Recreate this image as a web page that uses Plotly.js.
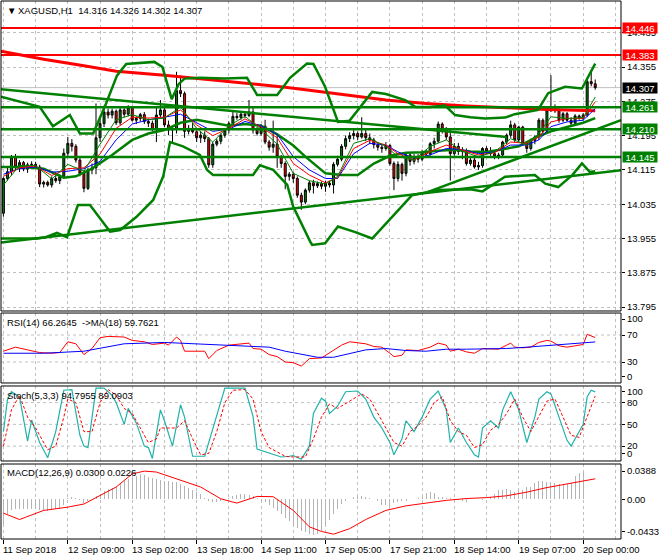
<!DOCTYPE html>
<html><head><meta charset="utf-8">
<script src="https://cdn.plot.ly/plotly-3.0.1.min.js"></script>
<style>html,body{margin:0;padding:0;background:#fff}#c{width:660px;height:560px}</style>
</head><body><div id="c"></div>
<script>
// ---------- DATA ----------
const openP = [14.014,14.095,14.111,14.145,14.122,14.132,14.117,14.127,14.128,14.122,14.082,14.086,14.080,14.095,14.090,14.100,14.154,14.177,14.170,14.138,
14.107,14.072,14.115,14.120,14.190,14.223,14.250,14.243,14.252,14.225,14.255,14.245,14.260,14.231,14.235,14.244,14.228,14.224,14.210,14.243,
14.255,14.220,14.208,14.210,14.300,14.293,14.205,14.212,14.204,14.190,14.196,14.188,14.127,14.175,14.182,14.196,14.208,14.223,14.240,14.237,
14.245,14.242,14.250,14.208,14.200,14.217,14.180,14.168,14.175,14.146,14.130,14.100,14.105,14.095,14.056,14.040,14.068,14.085,14.078,14.083,
14.077,14.084,14.080,14.128,14.140,14.170,14.188,14.195,14.200,14.192,14.200,14.190,14.185,14.174,14.168,14.165,14.172,14.130,14.095,14.128,
14.107,14.150,14.135,14.146,14.140,14.156,14.152,14.176,14.182,14.222,14.210,14.192,14.153,14.170,14.158,14.160,14.130,14.138,14.122,14.125,
14.165,14.158,14.153,14.146,14.150,14.180,14.196,14.220,14.185,14.215,14.177,14.165,14.184,14.192,14.231,14.205,14.255,14.262,14.253,14.231,
14.246,14.231,14.224,14.241,14.236,14.243,14.321,14.316];
const highP = [14.098,14.120,14.150,14.152,14.138,14.136,14.132,14.135,14.134,14.127,14.090,14.090,14.100,14.110,14.105,14.165,14.192,14.187,14.175,14.145,
14.115,14.120,14.130,14.270,14.240,14.265,14.258,14.258,14.256,14.260,14.260,14.266,14.264,14.240,14.248,14.250,14.235,14.230,14.262,14.278,
14.262,14.230,14.215,14.344,14.335,14.298,14.220,14.225,14.210,14.205,14.205,14.192,14.180,14.188,14.200,14.212,14.228,14.250,14.248,14.252,
14.250,14.278,14.262,14.215,14.222,14.232,14.185,14.230,14.200,14.150,14.135,14.110,14.110,14.100,14.062,14.072,14.090,14.092,14.088,14.088,
14.090,14.090,14.133,14.148,14.175,14.195,14.203,14.208,14.205,14.238,14.210,14.200,14.190,14.180,14.176,14.180,14.176,14.135,14.135,14.132,
14.156,14.155,14.152,14.152,14.162,14.162,14.180,14.190,14.228,14.226,14.215,14.210,14.178,14.178,14.168,14.165,14.145,14.150,14.134,14.168,
14.170,14.168,14.160,14.155,14.183,14.200,14.230,14.225,14.218,14.218,14.182,14.188,14.196,14.236,14.235,14.262,14.336,14.268,14.260,14.250,
14.250,14.238,14.245,14.244,14.248,14.325,14.348,14.326];
const lowP = [14.006,14.090,14.102,14.115,14.110,14.112,14.108,14.118,14.118,14.075,14.074,14.076,14.074,14.085,14.082,14.095,14.145,14.158,14.132,14.100,
14.063,14.068,14.105,14.105,14.180,14.215,14.235,14.235,14.220,14.220,14.238,14.240,14.228,14.222,14.228,14.222,14.215,14.205,14.180,14.238,
14.215,14.196,14.177,14.200,14.285,14.190,14.198,14.200,14.180,14.178,14.180,14.120,14.120,14.170,14.175,14.190,14.200,14.218,14.232,14.232,
14.236,14.238,14.200,14.195,14.195,14.175,14.160,14.155,14.120,14.120,14.070,14.090,14.085,14.050,14.022,14.035,14.062,14.060,14.073,14.070,
14.064,14.074,14.060,14.123,14.135,14.163,14.180,14.186,14.185,14.188,14.182,14.175,14.165,14.160,14.155,14.160,14.125,14.068,14.088,14.090,
14.100,14.125,14.128,14.132,14.135,14.145,14.148,14.165,14.178,14.200,14.185,14.090,14.148,14.150,14.140,14.125,14.125,14.118,14.115,14.120,
14.152,14.148,14.140,14.140,14.145,14.175,14.190,14.180,14.180,14.172,14.155,14.160,14.175,14.185,14.195,14.200,14.250,14.248,14.225,14.226,
14.228,14.218,14.220,14.232,14.230,14.238,14.310,14.302];
const closeP = [14.095,14.111,14.145,14.122,14.132,14.117,14.127,14.128,14.122,14.082,14.086,14.080,14.095,14.090,14.100,14.154,14.177,14.170,14.138,14.107,
14.072,14.115,14.120,14.190,14.223,14.250,14.243,14.252,14.225,14.255,14.245,14.260,14.231,14.235,14.244,14.228,14.224,14.210,14.243,14.255,
14.220,14.208,14.210,14.300,14.293,14.205,14.212,14.204,14.190,14.196,14.188,14.127,14.175,14.182,14.196,14.208,14.223,14.240,14.237,14.245,
14.242,14.250,14.208,14.200,14.217,14.180,14.168,14.175,14.146,14.130,14.100,14.105,14.095,14.056,14.040,14.068,14.085,14.078,14.083,14.077,
14.084,14.080,14.128,14.140,14.170,14.188,14.195,14.200,14.192,14.200,14.190,14.185,14.174,14.168,14.165,14.172,14.130,14.095,14.128,14.107,
14.150,14.135,14.146,14.140,14.156,14.152,14.176,14.182,14.222,14.210,14.192,14.153,14.170,14.158,14.160,14.130,14.138,14.122,14.125,14.165,
14.158,14.153,14.146,14.150,14.180,14.196,14.220,14.185,14.215,14.177,14.165,14.184,14.192,14.231,14.205,14.255,14.262,14.253,14.231,14.246,
14.231,14.224,14.241,14.236,14.243,14.321,14.316,14.307];

// moving averages (read every few bars)
const maX    = [0,4,8,12,16,20,24,28,32,36,40,44,48,52,56,60,64,68,72,76,80,83,87,91,95,98,102,106,110,114,118,122,126,130,133,136,140,144,147];
const maBlue = [14.105,14.118,14.122,14.110,14.112,14.118,14.135,14.185,14.222,14.232,14.238,14.245,14.225,14.205,14.210,14.228,14.218,14.198,14.146,14.115,14.095,14.095,14.153,14.177,14.173,14.157,14.142,14.150,14.165,14.162,14.153,14.157,14.173,14.173,14.185,14.216,14.227,14.231,14.258];
const maRed  = [14.100,14.120,14.124,14.102,14.118,14.120,14.152,14.212,14.238,14.236,14.238,14.255,14.220,14.195,14.212,14.234,14.215,14.190,14.130,14.103,14.085,14.097,14.165,14.184,14.173,14.153,14.138,14.158,14.173,14.162,14.150,14.155,14.180,14.177,14.192,14.227,14.235,14.235,14.274];
const maGreen= [14.080,14.125,14.125,14.094,14.128,14.112,14.175,14.232,14.244,14.232,14.236,14.262,14.212,14.180,14.218,14.240,14.210,14.175,14.107,14.090,14.082,14.100,14.177,14.188,14.170,14.146,14.138,14.170,14.185,14.158,14.146,14.157,14.188,14.173,14.200,14.239,14.235,14.237,14.285];

const ma200X = [-0.6,10,20,28,40,49,60,70,76,85,95,105,115,125,135,147];
const ma200Y = [14.392,14.373,14.358,14.345,14.336,14.328,14.318,14.308,14.301,14.290,14.278,14.270,14.264,14.260,14.256,14.253];

const bbUpX = [-0.6,4,9,12.3,16.5,19,22.3,25.5,28.2,30.5,37.5,39.5,41.8,43.5,45,48.8,55,60.5,63,68,71.2,75.4,77,79.9,83.1,86,91.6,95,99.8,102.3,106,109.7,112.2,116,119.7,124.6,127,132.8,135.3,139.5,143.7,147];
const bbUpY = [14.286,14.275,14.262,14.217,14.243,14.200,14.200,14.270,14.335,14.362,14.367,14.355,14.280,14.315,14.328,14.330,14.328,14.330,14.290,14.290,14.330,14.363,14.362,14.309,14.227,14.230,14.297,14.292,14.278,14.262,14.262,14.265,14.243,14.238,14.235,14.237,14.245,14.255,14.294,14.309,14.305,14.363];
const bbMidX = [-0.6,5,10,15,18,22,27,32,36,40,44,48,52,56,60,64,68,72,75,80,84,88,92,96,100,104,108,112,116,120,124,128,132,136,140,144,147];
const bbMidY = [14.122,14.122,14.118,14.097,14.100,14.118,14.150,14.185,14.200,14.208,14.225,14.232,14.225,14.218,14.222,14.218,14.198,14.172,14.146,14.107,14.103,14.103,14.130,14.148,14.155,14.156,14.160,14.162,14.158,14.157,14.163,14.170,14.190,14.205,14.215,14.225,14.236];
const bbLoX = [-0.6,8.3,10.5,13.3,15.8,17,18.5,21.5,26.5,29,33,37.2,39.7,41.4,44.6,48.8,50.6,52.1,62,63.7,67,70.5,72,76.2,76.7,79.9,83.1,87.4,91.6,97.3,101.5,108,116,119,122.1,124.6,132,134.6,137.8,141.3,143.7,145.7,147];
const bbLoY = [13.955,13.955,13.958,13.968,13.958,13.990,14.033,14.033,13.971,13.975,14.005,14.045,14.100,14.180,14.170,14.150,14.115,14.103,14.103,14.126,14.115,14.080,14.029,13.948,13.940,13.944,13.983,13.970,13.955,14.013,14.056,14.068,14.070,14.065,14.084,14.099,14.103,14.083,14.075,14.103,14.130,14.110,14.112];

// trend lines (bar index, price)
const trend1X = [-0.6,153.4], trend1Y = [13.946,14.114];
const trend2X = [-0.6,125], trend2Y = [14.303,14.192];
const trend3X = [105.5,153.4], trend3Y = [14.064,14.231];

// horizontal levels
const redLevels = [14.446,14.383];
const greenLevels = [14.261,14.210,14.145];
const lastPrice = 14.307;

// RSI
const rsiX = [0,3,6,9,12,14,16,18,20,22,24,26,30,32,35,37,40,41,43,44,45,48,50,51,53,56,59,61,62,64,66,68,70,72,74,76,79,82,84,86,88,90,92,94,96,97,99,100,103,106,108,110,111,113,115,117,119,121,123,125,126,127,129,131,133,135,136,138,140,142,144,145,146,147];
const rsiY = [46,52,48,44,43,44,60,57,41,50,66,68,67,62,60,56,58,55,67,62,46,46,46,35,47,55,57,58,50,49,41,38,30,29,24,35,36,48,55,60,58,57,53,52,43,38,40,48,47,52,58,55,46,49,45,43,50,49,49,55,58,52,51,52,59,62,61,54,52,54,56,71,69,66.26];
const rsiMaX = [0,10,20,25,30,40,50,60,66,70,74,78,82,86,90,95,100,105,110,115,120,125,130,135,140,145,147];
const rsiMaY = [43,43,46,52,57,59,56,53,52,46,42,37,37,42,48,50,47,46,49,49,49,50,52,54,56,58,59.76];

// Stochastic
const stX = [0,1,2,3,4,6,7,9,11,13,15,17,19,20,21,23,25,27,28,30,31,33,35,36,37,39,40,42,44,45,47,50,52,54,55,60,62,63,65,69,71,72,74,76,77,79,80,81,83,85,88,90,92,94,96,97,99,100,102,104,106,108,110,111,113,115,117,118,119,121,123,124,126,128,130,132,133,135,136,138,140,141,143,144,145,146,147];
const stMain = [40,84,95,92,88,27,56,25,4,40,97,98,35,20,18,100,100,90,80,50,72,52,20,18,3,70,55,20,77,60,6,6,43,82,100,100,61,16,12,5,6,7,2,20,65,86,82,65,75,95,96,85,60,45,25,8,30,55,40,60,85,96,70,25,45,25,8,5,45,55,45,70,95,70,25,60,85,95,92,60,28,20,40,50,88,97,94.8];
const stSigX = [0,2,4,6,8,10,11,13,15,16,18,20,22,24,26,28,30,32,34,36,38,39,41,43,45,47,49,51,53,55,57,60,62,64,66,70,72,75,77,79,81,83,86,89,91,93,95,97,99,101,103,105,107,109,111,113,115,117,119,121,123,125,127,129,131,133,135,137,139,141,143,145,147];
const stSig = [20,70,90,60,45,25,15,20,60,85,80,40,40,80,98,90,72,65,45,25,30,45,45,45,55,30,8,10,40,80,97,98,85,40,18,6,5,5,30,60,78,72,82,92,85,65,45,25,20,40,48,60,80,88,55,40,35,18,22,42,50,65,85,60,40,60,82,85,60,35,32,60,89.09];

// MACD
const macdHist = [-0.027,-0.016,-0.012,-0.010,-0.010,-0.011,-0.010,-0.010,-0.010,-0.012,-0.013,-0.013,-0.012,-0.011,-0.010,-0.006,
0.002,0.003,0.002,-0.001,-0.004,-0.002,0.000,0.004,
0.006,0.009,0.011,0.013,0.014,0.017,0.020,0.022,0.024,0.026,0.028,0.027,0.025,0.023,0.022,0.021,0.020,0.020,0.019,0.019,0.017,0.015,0.013,0.010,0.008,0.006,0.002,
-0.002,-0.003,-0.003,-0.002,0.000,0.002,0.004,0.005,0.006,0.006,0.005,0.004,
0.002,-0.001,-0.003,-0.006,-0.009,-0.013,-0.016,-0.020,-0.024,-0.028,-0.031,-0.034,-0.036,-0.038,-0.039,-0.038,-0.034,-0.028,
-0.022,-0.016,-0.010,-0.005,-0.002,0.001,0.003,0.004,0.004,0.003,0.002,0.001,
-0.002,-0.006,-0.006,-0.007,-0.004,-0.003,-0.002,-0.002,0.000,0.000,0.002,0.003,
0.007,0.008,0.007,0.003,0.003,0.002,0.002,0.000,-0.001,-0.002,-0.003,0.000,
0.000,0.000,-0.001,0.000,0.003,0.006,0.010,0.010,0.011,0.010,0.008,0.009,
0.010,0.014,0.014,0.018,0.020,0.020,0.019,0.019,0.018,0.017,0.017,0.017,
0.018,0.026,0.029,0.030];
const macdSigX = [0,4,10,16,20,24,28,32,35,38,44,49,54,58,63,67,72,76,79,82,86,90,95,100,105,110,115,120,125,130,135,140,144,147];
const macdSigY = [-0.015,-0.022,-0.012,-0.0084,-0.005,0.0044,0.0136,0.028,0.031,0.030,0.021,0.0136,0.0007,-0.004,0.0033,0.003,-0.012,-0.030,-0.035,-0.038,-0.032,-0.022,-0.012,-0.007,-0.004,-0.001,0.001,0.002,0.004,0.008,0.013,0.017,0.020,0.0226];

// axis labels
const timeLabels = ["11 Sep 2018","12 Sep 09:00","13 Sep 02:00","13 Sep 18:00","14 Sep 11:00","17 Sep 05:00","17 Sep 21:00","18 Sep 14:00","19 Sep 07:00","20 Sep 00:00"];
const timeLabelBars = [0,16,32,48,64,80,96,112,128,144];

// ---------- BUILD ----------
const idx = closeP.map((_, i) => i);
const FONT = "Liberation Sans, Arial, sans-serif";
const GREEN = "#008000", RED = "#ff0000";
const pxY = p => (539 - p) / 538;
const pxX = p => (p - 1) / 620;

const traces = [];
traces.push({type:"candlestick", x:idx, open:openP, high:highP, low:lowP, close:closeP, xaxis:"x", yaxis:"y",
  increasing:{fillcolor:GREEN, line:{color:"#000", width:1}},
  decreasing:{fillcolor:RED, line:{color:"#000", width:1}},
  whiskerwidth:0, hoverinfo:"skip", showlegend:false});
function line(x, y, color, width, yaxis, dash) {
  traces.push({type:"scatter", mode:"lines", x:x, y:y, xaxis:"x", yaxis:yaxis||"y",
    line:{color:color, width:width, dash:dash||"solid"}, hoverinfo:"skip", showlegend:false});
}
line(ma200X, ma200Y, RED, 3);
line(bbUpX, bbUpY, GREEN, 2.5);
line(bbMidX, bbMidY, GREEN, 2.5);
line(bbLoX, bbLoY, GREEN, 2.5);
line(trend1X, trend1Y, GREEN, 2.5);
line(trend2X, trend2Y, GREEN, 2.5);
line(trend3X, trend3Y, GREEN, 2.5);
line(maX, maBlue, "#0000ff", 1);
line(maX, maRed, RED, 1);
line(maX, maGreen, GREEN, 1);

line(rsiX, rsiY, RED, 1, "y2");
line(rsiMaX, rsiMaY, "#0000ff", 1, "y2");
line(stX, stMain, "#20b2aa", 1.2, "y3");
line(stSigX, stSig, RED, 1, "y3", "3px,2px");
traces.push({type:"bar", x:idx, y:macdHist, xaxis:"x", yaxis:"y4", width:0.25,
  marker:{color:"#b4b4b4", line:{width:0}}, hoverinfo:"skip", showlegend:false});
line(macdSigX, macdSigY, RED, 1, "y4");

const shapes = [];
const annotations = [];
redLevels.forEach(v => shapes.push({type:"line", xref:"paper", x0:0, x1:1, yref:"y", y0:v, y1:v, line:{color:RED, width:2}}));
greenLevels.forEach(v => shapes.push({type:"line", xref:"paper", x0:0, x1:1, yref:"y", y0:v, y1:v, line:{color:GREEN, width:2.5}}));
shapes.push({type:"line", xref:"paper", x0:0, x1:1, yref:"y", y0:lastPrice, y1:lastPrice, line:{color:"#c0c0c0", width:1}, layer:"below"});
[30,70].forEach(v => shapes.push({type:"line", xref:"paper", x0:0, x1:1, yref:"y2", y0:v, y1:v, line:{color:"#c0c0c0", width:1, dash:"3px,3px"}, layer:"below"}));
[20,50,80].forEach(v => shapes.push({type:"line", xref:"paper", x0:0, x1:1, yref:"y3", y0:v, y1:v, line:{color:"#c0c0c0", width:1, dash:"3px,3px"}, layer:"below"}));

const doms = [[0.4238,1],[0.29,0.42],[0.145,0.2844],[0,0.1394]];
doms.forEach(d => shapes.push({type:"rect", xref:"paper", yref:"paper", x0:0, x1:1, y0:d[0], y1:d[1], line:{color:"#000", width:1}, fillcolor:"rgba(0,0,0,0)"}));

function box(v, bg) {
  annotations.push({xref:"paper", x:1, xanchor:"left", xshift:1, yref:"y", y:v, yanchor:"middle",
    text:v.toFixed(3), showarrow:false, bgcolor:bg, width:34, height:10, borderpad:0,
    font:{family:FONT, size:9.5, color:"#fff"}});
}
redLevels.forEach(v => box(v, RED));
greenLevels.forEach(v => box(v, GREEN));
box(lastPrice, "#000");

function txt(px, py, t) {
  annotations.push({xref:"paper", yref:"paper", x:pxX(px), y:pxY(py), xanchor:"left", yanchor:"middle",
    text:t, showarrow:false, font:{family:FONT, size:9.5, color:"#000"}});
}
txt(5, 10, "▼");
txt(16, 10, "XAGUSD,H1\u00a0\u00a014.316 14.326 14.302 14.307");
txt(5, 322, "RSI(14) 66.2645\u00a0\u00a0->MA(18) 59.7621");
txt(5, 395, "Stoch(5,3,3) 94.7955 89.0903");
txt(5, 472, "MACD(12,26,9) 0.0300 0.0226");
timeLabels.forEach((t, k) => annotations.push({xref:"x", x:timeLabelBars[k], xanchor:"left", xshift:-2,
  yref:"paper", y:0, yanchor:"top", yshift:-3, text:t, showarrow:false, font:{family:FONT, size:9.5, color:"#000"}}));

const gridCommon = {gridcolor:"#c0c0c0", griddash:"3px,3px", gridwidth:1};
const yCommon = {side:"right", anchor:"x", ticks:"outside", ticklen:3, tickcolor:"#000", zeroline:false,
  tickfont:{family:FONT, size:9.5, color:"#000"}, fixedrange:true};

const layout = {
  width:660, height:560, margin:{l:1, r:39, t:1, b:21},
  paper_bgcolor:"#fff", plot_bgcolor:"#fff", showlegend:false, bargap:0,
  font:{family:FONT, size:9.5, color:"#000"},
  xaxis:Object.assign({domain:[0,1], range:[-0.6,153.4], anchor:"y4", tickmode:"linear", tick0:0, dtick:16,
    ticks:"outside", ticklen:4, tickcolor:"#000", showticklabels:false, showgrid:true, zeroline:false,
    rangeslider:{visible:false}, fixedrange:true,
    minor:Object.assign({tickmode:"linear", tick0:0, dtick:8, showgrid:true, ticks:""}, gridCommon)}, gridCommon),
  yaxis:Object.assign({}, yCommon, gridCommon, {domain:doms[0], range:[13.786,14.509], tickmode:"linear", tick0:13.795, dtick:0.08, tickformat:".3f", showgrid:true}),
  yaxis2:Object.assign({}, yCommon, {domain:doms[1], range:[-1.1,102.6], tickmode:"array", tickvals:[7.8,30,70,93.7], ticktext:["0","30","70","100"], showgrid:false}),
  yaxis3:Object.assign({}, yCommon, {domain:doms[2], range:[-0.5,102.9], tickmode:"array", tickvals:[10.1,20,50,80,94.7], ticktext:["0","20","50","80","100"], showgrid:false}),
  yaxis4:Object.assign({}, yCommon, {domain:doms[3], range:[-0.0433,0.0388], tickmode:"array", tickvals:[-0.0356,0,0.0311], ticktext:["-0.0433","0.00","0.0388"], showgrid:false}),
  shapes:shapes, annotations:annotations
};
Plotly.newPlot("c", traces, layout, {staticPlot:true, displayModeBar:false});
</script></body></html>
